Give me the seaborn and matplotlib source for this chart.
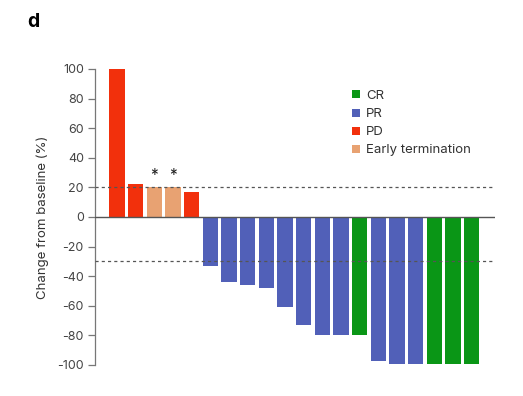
import pandas as pd
import matplotlib.pyplot as plt
from matplotlib.lines import Line2D
import seaborn as sns

# Values (change from baseline, %)
patients = [f"P{i + 1}" for i in range(20)]
change = [100, 22, 20, 20, 17,
          -33, -44, -46, -48, -61, -73, -80, -80, -80,
          -97, -99, -99, -99, -99, -99]
response = ["PD", "PD", "Early termination", "Early termination", "PD",
            "PR", "PR", "PR", "PR", "PR", "PR", "PR", "PR", "CR",
            "PR", "PR", "PR", "CR", "CR", "CR"]
legend_order = ["CR", "PR", "PD", "Early termination"]
colors = {"CR": "#0a9616", "PR": "#5160b8", "PD": "#f2300c",
          "Early termination": "#e8a272"}
star_patients = ["P3", "P4"]
thresholds = [20, -30]
yticks = list(range(-100, 101, 20))

df = pd.DataFrame({"patient": patients, "change": change, "response": response})

sns.set_style("white")
plt.rcParams["font.family"] = ["Inter", "DejaVu Sans"]
plt.rcParams["axes.unicode_minus"] = False

fig = plt.figure(figsize=(5.23, 3.96), dpi=100)
ax = fig.add_axes([0.1816, 0.0783, 0.765, 0.7475])

sns.barplot(data=df, x="patient", y="change", hue="response", order=patients,
            hue_order=legend_order, palette=colors, dodge=False, width=0.82,
            saturation=1, linewidth=0, legend=False, ax=ax)

ax.axhline(0, color="#555555", lw=1.0, zorder=3)
for t in thresholds:
    ax.axhline(t, color="#555555", lw=0.9, ls=(0, (2.5, 2.5)), zorder=4)

for p in star_patients:
    i = patients.index(p)
    ax.text(i, change[i] + 8, "*", ha="center", va="center", fontsize=11,
            color="#222222")

ax.set_xlim(-1.18, 20.26)
ax.set_ylim(-100, 100)
ax.set_yticks(yticks)
ax.set_xticks([])
ax.set_xlabel("")
ax.set_ylabel("Change from baseline (%)", fontsize=9.5, color="#333333", labelpad=6)
ax.tick_params(axis="y", length=5, width=0.9, color="#777777", labelsize=9,
               labelcolor="#444444", left=True, pad=3)

sns.despine(ax=ax, bottom=True)
ax.spines["left"].set_color("#777777")
ax.spines["left"].set_linewidth(0.9)

handles = [Line2D([0], [0], marker="s", ls="", markersize=6,
                  markerfacecolor=colors[k], markeredgewidth=0) for k in legend_order]
ax.legend(handles, legend_order, loc="upper left", bbox_to_anchor=(0.605, 0.97),
          frameon=False, fontsize=9.5, handletextpad=0.3, labelspacing=0.45,
          handlelength=1.0, labelcolor="#333333")

fig.text(0.053, 0.945, "d", fontsize=14, fontweight="bold", va="center",
         color="black")

fig.savefig("out.png", dpi=100)
